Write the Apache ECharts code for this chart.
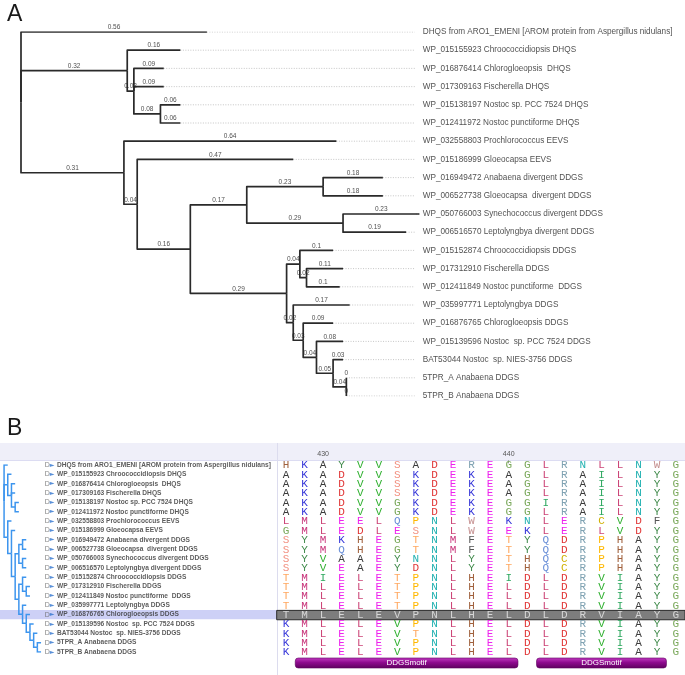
<!DOCTYPE html>
<html><head><meta charset="utf-8">
<script src="https://cdn.jsdelivr.net/npm/echarts@6.0.0/dist/echarts.min.js"></script>
<style>html,body{margin:0;padding:0;background:#fff}#c{width:685px;height:675px}</style>
</head><body><div id="c"></div>
<script>
// ---------------- data ----------------
const leafNames = [
"DHQS from ARO1_EMENI [AROM protein from Aspergillus nidulans]",
"WP_015155923 Chroococcidiopsis DHQS",
"WP_016876414 Chlorogloeopsis  DHQS",
"WP_017309163 Fischerella DHQS",
"WP_015138197 Nostoc sp. PCC 7524 DHQS",
"WP_012411972 Nostoc punctiforme DHQS",
"WP_032558803 Prochlorococcus EEVS",
"WP_015186999 Gloeocapsa EEVS",
"WP_016949472 Anabaena divergent DDGS",
"WP_006527738 Gloeocapsa  divergent DDGS",
"WP_050766003 Synechococcus divergent DDGS",
"WP_006516570 Leptolyngbya divergent DDGS",
"WP_015152874 Chroococcidiopsis DDGS",
"WP_017312910 Fischerella DDGS",
"WP_012411849 Nostoc punctiforme  DDGS",
"WP_035997771 Leptolyngbya DDGS",
"WP_016876765 Chlorogloeopsis DDGS",
"WP_015139596 Nostoc  sp. PCC 7524 DDGS",
"BAT53044 Nostoc  sp. NIES-3756 DDGS",
"5TPR_A Anabaena DDGS",
"5TPR_B Anabaena DDGS"];
// tree topology with branch lengths (leaf = index into leafNames)
const treeNewick = "(0:0.56,(1:0.16,(2:0.09,3:0.09,(4:0.06,5:0.06):0.08):0.02):0.32,(6:0.64,(7:0.47,(((8:0.18,9:0.18):0.23,(10:0.23,11:0.19):0.29):0.17,((12:0.1,(13:0.11,14:0.1):0.02):0.04,(15:0.17,(16:0.09,(17:0.08,(18:0.03,(19:0,20:0):0.04):0.05):0.04):0.03):0.02):0.29):0.16):0.04):0.31)";
const scaleBarLength = 0.3;
const alignRows = [
"HKAYVVSADEREGGLRNLLNWG",
"AKADVVSKDEKEAGLRAILNYG",
"AKADVVSKDEKEAGLRAILNYG",
"AKADVVSKDEKEAGLRAILNYG",
"AKADVVGKDEKEGGIRAILNYG",
"AKADVVGKDEKEGGLRAILNYG",
"LMLEELQPNLWEKNLERCVDFG",
"GMLEDLESNLWEEKLERLVDYG",
"SYMKHEGTNMFETYQDRPHAYG",
"SYMQHEGTNMFETYQDRPHAYG",
"SYVAAEYNNLYETHQCRPHAYG",
"SYVEAEYDNLYETHQCRPHAYG",
"TMIELETPNLHEIDLDRVIAYG",
"TMLELETPNLHELDLDRVIAYG",
"TMLELETPNLHELDLDRVIAYG",
"TMLELETPNLHELDLDRVIAYG",
"TMLELEVPNLHELDLDRVIAYG",
"KMLELEVPNLHELDLDRVIAYG",
"KMLELEVTNLHELDLDRVIAYG",
"KMLELEVPNLHELDLDRVIAYG",
"KMLELEVPNLHELDLDRVIAYG"];
const firstPosition = 428;
const rulerLabels = [430, 440];
const highlightedRow = 16;
const motifNames = ["DDGSmotif", "DDGSmotif"];
const motifStart = [429, 442];
const motifEnd = [440, 448];

// ---------------- styles ----------------
const aaColor = {H:'#a0603c',K:'#3434d8',A:'#3a3a3a',Y:'#3f8a4a',V:'#30b030',S:'#f29080',D:'#e03434',
 E:'#ee22ee',R:'#7fa2b2',G:'#7aa85a',L:'#cc4477',N:'#1fb0b0',W:'#c48e8e',I:'#2fa860',M:'#c8347a',
 Q:'#6a8fd8',P:'#ffb800',F:'#555555',T:'#ffa860',C:'#d0b000'};

// ---------------- tree parsing / layout ----------------
function parseNewick(s){
  let i=0;
  function node(){
    const n={children:[]};
    if(s[i]==='('){
      i++; n.children.push(node());
      while(s[i]===','){ i++; n.children.push(node()); }
      i++;
    } else {
      let t=''; while(i<s.length && /[0-9]/.test(s[i])) t+=s[i++];
      n.leaf=+t;
    }
    if(s[i]===':'){ i++; let t=''; while(i<s.length && /[0-9.]/.test(s[i])) t+=s[i++]; n.len=+t; }
    return n;
  }
  return node();
}
const root = parseNewick(treeNewick);
function layout(n,x,depth){
  n.x=x; n.depth=depth;
  if(n.leaf!==undefined){ n.y=n.leaf; return; }
  n.children.forEach(c=>layout(c,x+c.len,depth+1));
  n.y=(n.children[0].y+n.children[n.children.length-1].y)/2;
}
layout(root,0,0);
const segA=[], segB=[], branchLbl=[], leaves=[];
(function walk(n){
  n.children.forEach(c=>{
    segA.push({coords:[[n.x,n.y],[n.x,c.y],[c.x,c.y]]});
    segB.push({coords:[[n.depth,n.y],[n.depth,c.y],[c.depth,c.y]]});
    branchLbl.push({value:[(n.x+c.x)/2,c.y],txt:String(c.len)});
    walk(c);
  });
  if(n.leaf!==undefined) leaves.push(n);
})(root);
leaves.sort((a,b)=>a.leaf-b.leaf);
const LEADER_END=1.186, LABEL_X=1.21;
const leaderSeg = leaves.map(l=>({coords:[[l.x,l.y],[LEADER_END,l.y]]}));

// alignment cells
const cells=[];
alignRows.forEach((r,ri)=>{ for(let ci=0;ci<r.length;ci++) cells.push([ci,ri,r[ci]]); });
const positions = alignRows[0].split('').map((_,i)=>String(firstPosition+i));
const motifData = motifNames.map((m,i)=>[motifStart[i]-firstPosition, motifEnd[i]-firstPosition, m]);

const FONT='"Liberation Sans", Arial, sans-serif';
const chart = echarts.init(document.getElementById('c'),null,{renderer:'canvas'});
chart.setOption({
  animation:false,
  backgroundColor:'#fff',
  title:[
    {text:'A',left:7,top:3,padding:0,textStyle:{fontSize:23,fontWeight:'normal',color:'#1a1a1a',fontFamily:FONT}},
    {text:'B',left:7,top:417,padding:0,textStyle:{fontSize:23,fontWeight:'normal',color:'#1a1a1a',fontFamily:FONT}}
  ],
  graphic:[
    {type:'rect',shape:{x:0,y:443,width:685,height:17},style:{fill:'#efeff9'},silent:true,z:-10},
    {type:'line',shape:{x1:0,y1:460.5,x2:685,y2:460.5},style:{stroke:'#dcdcf2',lineWidth:1},silent:true,z:-9},
    {type:'line',shape:{x1:277.5,y1:443,x2:277.5,y2:675},style:{stroke:'#dcdcee',lineWidth:1},silent:true,z:-9}
  ],
  grid:[
    {left:21,top:32,width:666,height:364},
    {left:0,top:465,width:277,height:187},
    {left:276.7,top:460.3,width:410.74,height:205.7}
  ],
  xAxis:[
    {gridIndex:0,type:'value',min:0,max:2,show:false},
    {gridIndex:1,type:'value',min:-1.1,max:73.8,show:false},
    {gridIndex:2,type:'value',min:-0.5,max:21.5,show:false},
    {gridIndex:2,type:'category',data:positions,position:'top',boundaryGap:true,
      axisLine:{show:false},
      axisTick:{show:true,inside:true,alignWithLabel:true,length:3,interval:(i,v)=>rulerLabels.includes(+v),lineStyle:{color:'#999'}},
      axisLabel:{interval:(i,v)=>rulerLabels.includes(+v),fontSize:7,color:'#555',margin:3,fontFamily:FONT},
      splitLine:{show:false}}
  ],
  yAxis:[
    {gridIndex:0,type:'value',min:0,max:20,inverse:true,show:false},
    {gridIndex:1,type:'value',min:0,max:20,inverse:true,show:false},
    {gridIndex:2,type:'value',min:-0.5,max:21.5,inverse:true,show:false}
  ],
  series:[
    // ---- panel A ----
    {type:'lines',coordinateSystem:'cartesian2d',xAxisIndex:0,yAxisIndex:0,polyline:true,
      data:leaderSeg,lineStyle:{color:'#b8b8b8',width:0.8,type:[1,1.5],opacity:1},z:1},
    {type:'lines',coordinateSystem:'cartesian2d',xAxisIndex:0,yAxisIndex:0,polyline:true,
      data:segA,lineStyle:{color:'#2a2a2a',width:1.7,opacity:1,join:'round'},z:2},
    {type:'scatter',xAxisIndex:0,yAxisIndex:0,symbolSize:0,data:branchLbl,
      label:{show:true,position:'top',distance:1,formatter:p=>p.data.txt,fontSize:6.5,color:'#222',fontFamily:FONT},z:3},
    {type:'scatter',xAxisIndex:0,yAxisIndex:0,symbolSize:0,
      data:leaves.map(l=>({value:[LABEL_X,l.y],name:leafNames[l.leaf]})),
      label:{show:true,position:'right',distance:0,formatter:p=>p.name,fontSize:8.2,color:'#1e1e1e',fontFamily:FONT},z:3},
    // scale bar
    {type:'lines',coordinateSystem:'cartesian2d',xAxisIndex:0,yAxisIndex:0,polyline:true,
      data:[{coords:[[0.445,20.5],[0.445+scaleBarLength,20.5]]}],lineStyle:{color:'#333',width:1,opacity:1}},
    {type:'scatter',xAxisIndex:0,yAxisIndex:0,symbolSize:0,data:[{value:[0.445+scaleBarLength/2,21.3],txt:String(scaleBarLength)}],
      label:{show:true,position:'inside',formatter:p=>p.data.txt,fontSize:8,color:'#222',fontFamily:FONT}},
    // ---- panel B left: highlight + cladogram + names ----
    {type:'custom',xAxisIndex:1,yAxisIndex:1,data:[[highlightedRow]],clip:false,z:0,
      renderItem:(params,api)=>{
        const p0=api.coord([-1.1,api.value(0)-0.5]); const p1=api.coord([73.8,api.value(0)+0.5]);
        return {type:'rect',shape:{x:p0[0],y:p0[1],width:p1[0]-p0[0],height:p1[1]-p0[1]},style:{fill:'#cdd0f6'}};
      }},
    {type:'lines',coordinateSystem:'cartesian2d',xAxisIndex:1,yAxisIndex:1,polyline:true,
      data:segB,lineStyle:{color:'#3d95ee',width:1.5,opacity:1},z:2},
    {type:'scatter',xAxisIndex:1,yAxisIndex:1,symbolSize:0,
      data:leaves.map(l=>({value:[11.0,l.y]})),
      label:{show:true,position:'right',distance:0,formatter:'{d|D}{a|►}',
        rich:{d:{fontSize:7,color:'#666',fontFamily:FONT},a:{fontSize:6,color:'#2f74d0',fontFamily:'DejaVu Sans'}}},z:3},
    {type:'scatter',xAxisIndex:1,yAxisIndex:1,symbolSize:0,
      data:leaves.map(l=>({value:[14.3,l.y],name:leafNames[l.leaf]})),
      label:{show:true,position:'right',distance:0,formatter:p=>p.name,fontSize:6.6,fontWeight:'bold',color:'#333',fontFamily:FONT},z:3},
    // ---- panel B alignment ----
    {type:'custom',xAxisIndex:2,yAxisIndex:2,data:[[highlightedRow]],z:1,
      renderItem:(params,api)=>{
        const p0=api.coord([-0.5,api.value(0)-0.5]); const p1=api.coord([21.5,api.value(0)+0.5]);
        return {type:'rect',shape:{x:p0[0],y:p0[1]+0.5,width:p1[0]-p0[0],height:p1[1]-p0[1]},style:{fill:'#7d7d7d',stroke:'#2a2a2a',lineWidth:1}};
      }},
    {type:'custom',xAxisIndex:2,yAxisIndex:2,data:cells,z:2,
      renderItem:(params,api)=>{
        const p=api.coord([api.value(0),api.value(1)]);
        const ch=cells[params.dataIndex][2];
        const hl=api.value(1)===highlightedRow;
        return {type:'text',x:p[0],y:p[1]+0.5,style:{text:ch,fill:hl?'#d6d6d6':(aaColor[ch]||'#333'),
          fontSize:11,fontFamily:'"Liberation Mono","Courier New",monospace',
          align:'center',verticalAlign:'middle',textAlign:'center',textVerticalAlign:'middle'}};
      }},
    {type:'custom',xAxisIndex:2,yAxisIndex:2,data:motifData,z:3,
      renderItem:(params,api)=>{
        const a=api.coord([api.value(0)-0.5,21.18]); const b=api.coord([api.value(1)+0.5,21.18]);
        const name=motifData[params.dataIndex][2];
        return {type:'group',children:[
          {type:'rect',shape:{x:a[0],y:a[1]-5,width:b[0]-a[0],height:10,r:3},
           style:{fill:new echarts.graphic.LinearGradient(0,0,0,1,[{offset:0,color:'#c23ac2'},{offset:0.45,color:'#8e0a8e'},{offset:1,color:'#5e005e'}]),stroke:'#5a005a',lineWidth:0.6}},
          {type:'text',x:(a[0]+b[0])/2,y:a[1],style:{text:name,fill:'#fff',fontSize:8,fontFamily:FONT,
            align:'center',verticalAlign:'middle',textAlign:'center',textVerticalAlign:'middle'}}
        ]};
      }}
  ]
});
</script></body></html>
